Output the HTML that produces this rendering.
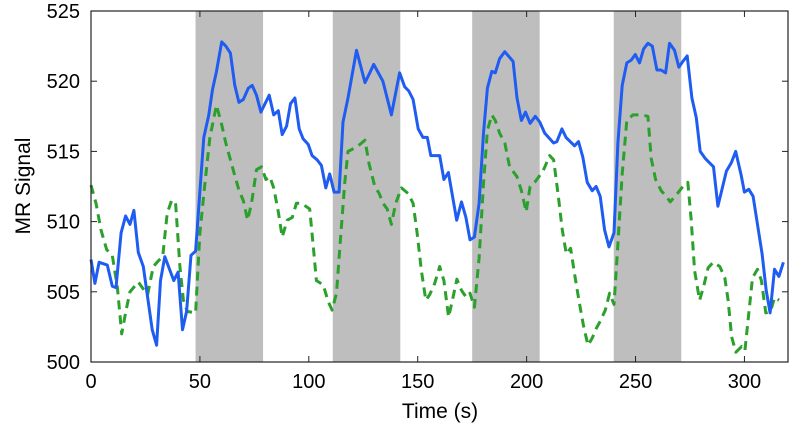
<!DOCTYPE html>
<html><head><meta charset="utf-8"><style>
html,body{margin:0;padding:0;background:#fff;}
svg{display:block;font-family:"Liberation Sans",Arial,sans-serif;}
</style></head><body>
<svg id="chart" width="792" height="432" viewBox="0 0 792 432" xmlns="http://www.w3.org/2000/svg">
<g id="bands"></g>
<g id="series"></g>
<g id="axes"></g>
<text x="440" y="418" font-size="21" text-anchor="middle">Time (s)</text>
<text x="0" y="0" font-size="21" text-anchor="middle" transform="translate(30,186) rotate(-90)">MR Signal</text>
</svg>
<script>
const xTicks = [0,50,100,150,200,250,300];
const yTicks = [500,505,510,515,520,525];
const bandStarts = [48,111,175,240];
const bandEnds = [79,142,206,271];
const blueT = [0,1.8,3.7,7.5,9.8,11.5,13.8,15.9,17.9,19.7,21.7,24,28.1,30.1,31.9,33.9,38,40,42,43.9,45.9,48,51.8,54.1,55.8,57.6,60,61.9,64,66,67.9,69.9,72.2,74,76,78,81.8,83.9,86,87.8,89.8,91.6,93.6,95.6,97.4,99.7,101.5,103.8,105.8,107.8,109.6,111.6,113.9,115.7,118,121.9,125.8,128,129.8,134,137.9,141.7,144,145.9,147.9,150.2,152.4,154.4,156,160.1,162,164.1,167.9,170.1,172.1,174,176,178.2,180.2,182,184,185.6,187.6,190,193.8,195.6,197.6,199.5,201.6,204,206,208.3,212.4,213.9,216.2,218.1,222,223.8,225.8,227.8,230.1,231.9,233.8,235.8,237.8,240.1,241.9,243.9,246,248,249.9,251.8,253.7,255.7,257.7,259.8,261.7,263.8,265.6,267.9,269.9,271.7,273.7,275.9,277.9,279.7,282,285.8,287.8,291.7,294,296,298.5,300,302,304,308.1,310,311.8,313.8,315.8,317.9];
const blueV = [507.3,505.6,507.1,506.9,505.4,505.3,509.2,510.4,509.8,510.8,507.8,506.8,502.3,501.2,505.8,507.5,505.8,506.4,502.3,503.6,507.6,507.9,516.0,517.6,519.4,520.7,522.8,522.5,522,519.7,518.5,518.7,519.5,519.7,519,517.8,519,517.6,517.9,516.2,516.8,518.4,518.8,516.6,515.9,515.5,514.7,514.4,514,512.4,513.4,512.1,512.1,517.1,518.8,522.2,519.9,520.6,521.2,520,517.6,520.6,519.6,519.3,518.7,516.6,516.0,516,514.7,514.7,513,513.5,510.1,511.4,510.3,508.7,508.9,511.3,516.3,519.5,520.7,520.6,521.6,522.1,521.4,518.8,517.2,517.8,517,517.5,517.1,516.3,515.6,515.7,516.6,516,515.4,515.7,514.6,512.8,512.2,512.5,511.8,509.4,508.2,509.2,515.6,519.7,521.3,521.5,521.9,521.3,522.3,522.7,522.5,520.8,520.8,520.6,522.7,522.2,521,521.4,521.8,518.8,517.4,515,514.5,513.9,511.1,513.6,514.2,515,513.3,512.1,512.3,511.8,507.7,505.1,503.5,506.6,506.1,507.1];
const greenT = [0,2.3,4.6,7.2,9.8,12.1,14.1,16.1,17.9,21.7,24,26,28.6,30.9,32.9,35,37,38.8,40.8,42.4,44.2,48,50,52.3,54.6,57.6,60,61.9,65.8,68,69.9,71.9,73.7,76,78.3,80.3,82.1,83.9,86,87.8,90.1,92.4,94.3,96.6,100.4,102,103.5,106.6,108.9,110.7,112.7,114.5,116.5,118,121.9,125.8,127.7,130.3,132.3,134.1,136,137.9,139.9,142.5,145.6,147.9,149.7,151.7,153.7,155.5,157.8,160.1,162,164.2,166.2,168,170.1,172.3,174,176,178.2,180.2,182,184,185.6,187.6,190,192.2,195.6,197.6,199.8,201.6,203.7,207.5,210.6,212.4,214.4,216.4,218.2,220.2,222,224,226.2,228.2,230.1,232,233.8,236.1,238.1,240.1,241.9,243.9,246,248.8,252.6,255.7,257.2,259.2,261.8,264.1,265.9,268.7,271.7,274,275.5,277.1,279.4,281.3,283.3,285.6,288.7,291,292.5,294.1,296.1,298.7,300.2,301.7,303.7,306,307.8,309.8,311.9,313.9,315.9];
const greenV = [512.6,511.3,509.4,508,507.6,505.3,502,503.7,505,505.7,505.2,504.8,506.8,507.2,507.5,510.6,511.5,511.4,506.8,504.4,503.6,503.5,509.2,512.7,516,518.3,516.9,515.6,513.4,512.2,511.5,510.1,511.3,513.7,513.9,513,513.2,512.4,510.7,508.9,510.1,510.3,511.3,511.3,510.9,508.3,505.8,505.5,504.3,503.7,504.9,508.7,512.8,515,515.3,515.8,514.1,512.5,512,511.3,510.9,509.8,511.3,512.4,512,511.3,509.2,506.5,504.4,504.8,505.6,506.8,505.8,503.2,504.6,505.9,505.1,504.6,504.9,503.9,507.4,512.7,516.5,517.6,517.2,516.3,515.6,513.9,513.2,512.2,510.7,512.5,512.8,513.6,514.7,514.4,512,509.4,507.7,508.1,506.3,504.4,502.5,501.2,501.7,502.4,502.9,503.7,504.9,504.1,508.4,513.4,517.2,517.6,517.6,517.5,514.5,513,512.2,511.8,511.4,511.9,512.5,512.8,510.2,506.5,504.4,505.4,506.7,507.1,506.8,506,504.4,501.8,500.7,501.1,500.8,503,506,506.6,505.8,503.5,503.6,504.6,504.4];

const L=91,R=788,T=11,B=362,X0=0,X1=320,Y0=500,Y1=525;
const sx=t=>L+(t-X0)/(X1-X0)*(R-L);
const sy=v=>B-(v-Y0)/(Y1-Y0)*(B-T);
const NS='http://www.w3.org/2000/svg';
function mk(tag,attrs,parent){const e=document.createElementNS(NS,tag);for(const k in attrs)e.setAttribute(k,attrs[k]);parent.appendChild(e);return e;}
const bands=document.getElementById('bands'),series=document.getElementById('series'),axes=document.getElementById('axes');
bandStarts.forEach((s,i)=>{
  const r=mk('rect',{x:sx(s),y:T,width:sx(bandEnds[i])-sx(s),height:B-T,fill:'#bebebe'},bands);
  
  
});
function line(ts,vs,color,dash,name){
  const d=ts.map((t,i)=>(i?'L':'M')+sx(t).toFixed(1)+','+sy(vs[i]).toFixed(1)).join('');
  const p=mk('path',{d:d,fill:'none',stroke:color,'stroke-width':3,'stroke-linejoin':'round'},series);
  if(dash)p.setAttribute('stroke-dasharray',dash);
  
  
}
line(greenT,greenV,'#2ca02c','9,6','green-dashed-series');
line(blueT,blueV,'#1f5cf2',null,'blue-solid-series');
const frame=mk('rect',{x:L,y:T,width:R-L,height:B-T,fill:'none',stroke:'#222','stroke-width':1.2},axes);


xTicks.forEach(t=>{
  const x=sx(t);
  mk('line',{x1:x,y1:B,x2:x,y2:B-6,stroke:'#222'},axes);
  mk('line',{x1:x,y1:T,x2:x,y2:T+6,stroke:'#222'},axes);
  const tx=mk('text',{x:x,y:B+26,'font-size':20,'text-anchor':'middle'},axes);
  tx.textContent=t;
  
  
});
yTicks.forEach(v=>{
  const y=sy(v);
  mk('line',{x1:L,y1:y,x2:L+6,y2:y,stroke:'#222'},axes);
  mk('line',{x1:R,y1:y,x2:R-6,y2:y,stroke:'#222'},axes);
  const tx=mk('text',{x:L-11,y:y+7,'font-size':20,'text-anchor':'end'},axes);
  tx.textContent=v;
  
  
});
</script>
</body></html>
